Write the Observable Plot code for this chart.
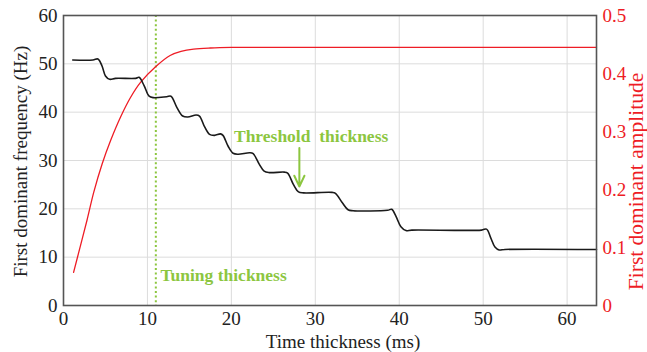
<!DOCTYPE html>
<html>
<head>
<meta charset="utf-8">
<script src="https://cdn.jsdelivr.net/npm/d3@7"></script>
<script src="https://cdn.jsdelivr.net/npm/@observablehq/plot@0.6"></script>
<style>
  html, body { margin: 0; padding: 0; background: #fff; }
  #chart svg, #chart svg text, #chart svg g {
    font-family: "Liberation Serif", "Times New Roman", serif !important;
    font-variant: normal !important;
    font-variant-numeric: normal !important;
  }
</style>
</head>
<body>
<div id="chart"></div>
<script>
// Time thickness (ms) vs first dominant frequency (Hz) — black staircase curve
const freqX = [1.1, 3.5, 4.1, 4.6, 5.0, 5.5, 6.2, 8.6, 9.0, 9.6, 10.2, 10.7, 12.3, 12.8, 13.5, 14.2, 14.8, 15.8, 16.2, 16.8, 17.4, 18.0, 18.7, 19.0, 19.6, 20.2, 20.8, 22.2, 22.6, 23.3, 23.9, 24.5, 26.3, 26.7, 27.4, 28.0, 28.6, 32.0, 32.4, 33.2, 33.9, 34.5, 38.6, 39.1, 39.6, 40.2, 40.8, 41.5, 49.8, 50.4, 50.9, 51.4, 51.9, 52.6, 63.5];
const freqHz = [50.8, 50.8, 51.0, 49.5, 47.5, 46.8, 47.0, 47.0, 47.2, 45.5, 43.3, 43.0, 43.2, 43.3, 41.0, 39.2, 39.0, 39.4, 39.2, 37.0, 35.4, 35.2, 35.5, 35.2, 33.0, 31.5, 31.3, 31.6, 31.4, 29.3, 27.8, 27.5, 27.6, 27.4, 25.0, 23.5, 23.3, 23.4, 23.2, 21.3, 19.8, 19.6, 19.7, 19.9, 18.5, 16.3, 15.5, 15.6, 15.6, 15.8, 14.0, 12.1, 11.5, 11.6, 11.6];

// Time thickness (ms) vs first dominant amplitude — red curve
const ampX = [1.2, 2.0, 2.8, 3.6, 4.6, 5.6, 6.8, 8.0, 9.2, 11.0, 12.7, 14.0, 15.5, 17.5, 20.0, 30.0, 63.5];
const ampVal = [0.057, 0.102, 0.147, 0.195, 0.244, 0.284, 0.325, 0.359, 0.385, 0.412, 0.431, 0.438, 0.442, 0.444, 0.445, 0.445, 0.445];

// Ticks
const xTicks = [0, 10, 20, 30, 40, 50, 60];
const yTicks = [0, 10, 20, 30, 40, 50, 60];
const ampTicks = [0, 0.1, 0.2, 0.3, 0.4, 0.5];
const ampTickLabels = ["0", "0.1", "0.2", "0.3", "0.4", "0.5"];

// Annotations
const tuningX = [11];
const arrowX = [28.1];
const arrowFrom = [32.6];
const arrowTo = [24.6];
const thresholdLabel = ["Threshold  thickness"];
const thresholdPos = [{x: 29.5, y: 34.9}];
const tuningLabel = ["Tuning thickness"];
const tuningPos = [{x: 11.55, y: 6.2}];

const ampMax = 0.5, hzMax = 60;
const toHz = a => a * hzMax / ampMax;

const serif = "'Liberation Serif', 'Times New Roman', serif";
const green = "#8cc63f";
const red = "#ee1c25";

const freqData = freqX.map((x, i) => ({x, y: freqHz[i]}));
const ampData = ampX.map((x, i) => ({x, y: toHz(ampVal[i])}));

const chart = Plot.plot({
  width: 647,
  height: 352,
  marginLeft: 63,
  marginRight: 51,
  marginTop: 15,
  marginBottom: 47,
  style: {fontFamily: serif, fontSize: "19px", background: "#fff", color: "#222", overflow: "visible"},
  x: {domain: [0, 63.5], axis: null},
  y: {domain: [0, 60], axis: null},
  marks: [
    Plot.gridX(xTicks.slice(1), {stroke: "#dcdcdc", strokeOpacity: 1, strokeWidth: 1}),
    Plot.gridY(yTicks.slice(1, -1), {stroke: "#dcdcdc", strokeOpacity: 1, strokeWidth: 1}),
    Plot.ruleX(tuningX, {stroke: green, strokeWidth: 2, strokeDasharray: "2,2.6"}),
    Plot.line(ampData, {x: "x", y: "y", stroke: red, strokeWidth: 1.3, curve: "catmull-rom"}),
    Plot.line(freqData, {x: "x", y: "y", stroke: "#1a1a1a", strokeWidth: 1.6, curve: "catmull-rom"}),
    Plot.arrow(arrowX, {x1: d => d, x2: d => d, y1: (d, i) => arrowFrom[i], y2: (d, i) => arrowTo[i], stroke: green, strokeWidth: 2, headLength: 9, headAngle: 50}),
    Plot.text(thresholdLabel, {x: (d, i) => thresholdPos[i].x, y: (d, i) => thresholdPos[i].y, text: d => d, fill: green, fontWeight: "bold", fontSize: 17.5, fontFamily: serif, textAnchor: "middle", lineAnchor: "middle"}),
    Plot.text(tuningLabel, {x: (d, i) => tuningPos[i].x, y: (d, i) => tuningPos[i].y, text: d => d, fill: green, fontWeight: "bold", fontSize: 17.5, fontFamily: serif, textAnchor: "start", lineAnchor: "middle"}),
    Plot.frame({stroke: "#555", strokeWidth: 1.6}),
    Plot.text(xTicks, {x: d => d, frameAnchor: "bottom", dy: 13, text: d => String(d), textAnchor: "middle", lineAnchor: "middle", fill: "#222", fontSize: 19, fontFamily: serif}),
    Plot.text(yTicks, {y: d => d, frameAnchor: "left", dx: -6, text: d => String(d), textAnchor: "end", lineAnchor: "middle", fill: "#222", fontSize: 19, fontFamily: serif}),
    Plot.text(ampTicks, {y: d => toHz(d), frameAnchor: "right", dx: 6, text: (d, i) => ampTickLabels[i], textAnchor: "start", lineAnchor: "middle", fill: red, fontSize: 19, fontFamily: serif}),
    Plot.text(["Time thickness (ms)"], {frameAnchor: "bottom", dx: 13, dy: 36, textAnchor: "middle", lineAnchor: "middle", fill: "#222", fontSize: 19, fontFamily: serif}),
    Plot.text(["First dominant frequency (Hz)"], {frameAnchor: "left", dx: -43, dy: 1, rotate: -90, textAnchor: "middle", lineAnchor: "middle", fill: "#222", fontSize: 19, fontFamily: serif}),
    Plot.text(["First dominant amplitude"], {frameAnchor: "right", dx: 40, dy: 21, rotate: -90, textAnchor: "middle", lineAnchor: "middle", fill: red, fontSize: 21.5, fontFamily: serif})
  ]
});
document.getElementById("chart").appendChild(chart);
</script>
</body>
</html>
